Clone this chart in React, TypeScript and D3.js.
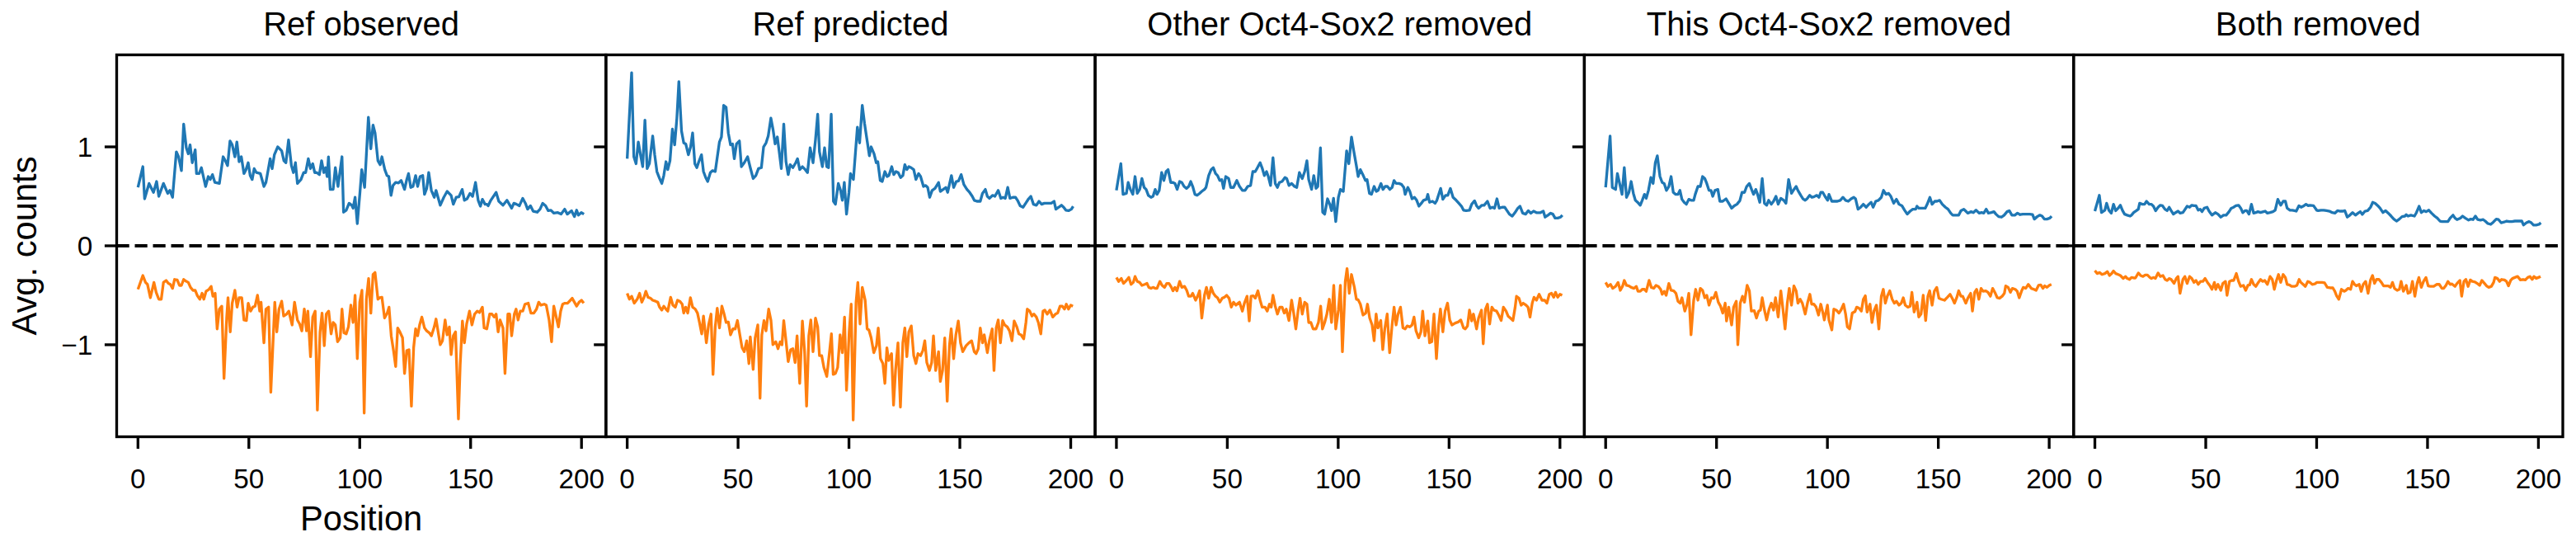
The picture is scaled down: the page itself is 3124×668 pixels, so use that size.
import React from 'react';
import * as d3 from 'd3';

type Pt = [number, number];

const panelTitles = ['Ref observed', 'Ref predicted', 'Other Oct4-Sox2 removed', 'This Oct4-Sox2 removed', 'Both removed'];
const xTicks = [0, 50, 100, 150, 200];
const yTicks = [-1, 0, 1];
const yTickLabels = ['\u22121', '0', '1'];

const refObservedPlus: Pt[] = [[0,0.59],[2.2,0.80],[3,0.475],[5,0.63],[7,0.54],[8.4,0.65],[9.4,0.50],[11.5,0.63],[13.4,0.53],[14.4,0.56],[15.6,0.49],[17.3,0.95],[18.3,0.90],[19.6,0.76],[20.6,1.23],[21.8,0.99],[22.7,0.93],[23.5,1.02],[24.5,0.84],[25.8,0.97],[26.4,0.73],[27.6,0.73],[28.6,0.79],[30.5,0.60],[31.7,0.70],[32.6,0.67],[33.6,0.72],[34.7,0.64],[36.7,0.63],[38.4,0.90],[39.4,0.86],[40.4,0.81],[41.5,1.06],[42.5,1.02],[43.7,0.90],[44.6,1.05],[45.6,0.85],[46.6,0.90],[47.8,0.73],[48.7,0.77],[49.7,0.84],[50.6,0.71],[51.5,0.67],[52.4,0.78],[53.4,0.74],[55.2,0.73],[56.8,0.60],[57.7,0.64],[59.6,0.88],[60.5,0.78],[61.5,0.92],[63,1.00],[64.8,0.96],[65.8,0.86],[66.7,0.84],[67.9,1.07],[69.2,0.81],[70.1,0.74],[71,0.84],[71.9,0.63],[73.5,0.67],[74.7,0.74],[75.6,0.74],[76.8,0.88],[77.8,0.78],[78.8,0.83],[79.7,0.74],[80.6,0.74],[81.8,0.72],[82.8,0.86],[83.8,0.74],[84.6,0.79],[85.3,0.70],[85.9,0.90],[86.7,0.57],[88,0.57],[89,0.79],[90.2,0.60],[92,0.90],[92.7,0.34],[93.9,0.36],[95.2,0.43],[96.4,0.41],[97,0.38],[97.9,0.49],[98.9,0.225],[100.1,0.54],[100.9,0.77],[102.2,0.59],[103.9,1.30],[105,0.98],[106,1.22],[106.9,1.14],[108.2,0.86],[109.2,0.82],[110,0.90],[111.3,0.77],[112.3,0.71],[113.1,0.70],[114.1,0.51],[115,0.61],[116.2,0.64],[117.5,0.635],[118.7,0.66],[120.2,0.57],[121.2,0.67],[122,0.73],[123,0.59],[124,0.60],[125.2,0.71],[126.1,0.60],[127.2,0.70],[128.4,0.71],[129.2,0.52],[130.2,0.58],[131.1,0.74],[132.3,0.56],[133.6,0.49],[134.4,0.56],[136.3,0.41],[137.9,0.49],[139.4,0.55],[141.2,0.51],[142.2,0.42],[143.5,0.49],[144.7,0.495],[146.2,0.57],[147.2,0.46],[148.4,0.475],[149.7,0.53],[150.9,0.50],[152.2,0.64],[153.4,0.46],[154.4,0.40],[155.3,0.47],[156.5,0.42],[157.3,0.42],[157.9,0.405],[159.1,0.46],[161.5,0.54],[162.7,0.45],[164.6,0.41],[166.4,0.46],[168.5,0.38],[169.5,0.43],[170.7,0.42],[172,0.405],[173.5,0.48],[174.7,0.43],[175.7,0.37],[177,0.405],[178.2,0.35],[180,0.34],[181.3,0.37],[182.5,0.43],[183.8,0.405],[185,0.355],[186.2,0.36],[187.5,0.33],[189.3,0.336],[190.8,0.32],[192.4,0.37],[193.6,0.32],[195.5,0.355],[196.8,0.295],[197.8,0.36],[198.6,0.31],[199.9,0.336],[201.1,0.32]];

const refObservedMinus: Pt[] = [[0,-0.44],[2.2,-0.30],[3.4,-0.37],[4.3,-0.39],[5.6,-0.525],[7.2,-0.37],[8.2,-0.47],[9.4,-0.54],[10.5,-0.54],[11.5,-0.37],[12.7,-0.35],[13.7,-0.38],[14.6,-0.39],[15.6,-0.43],[16.5,-0.34],[17.7,-0.345],[18.7,-0.40],[19.6,-0.40],[20.6,-0.34],[21.4,-0.355],[22.7,-0.37],[23.7,-0.42],[24.8,-0.45],[25.8,-0.45],[26.8,-0.505],[27.9,-0.54],[28.9,-0.48],[29.7,-0.54],[30.7,-0.46],[32,-0.44],[33,-0.41],[33.8,-0.51],[34.8,-0.48],[35.7,-0.84],[36.7,-0.64],[37.8,-0.61],[38.8,-1.34],[40,-0.73],[40.6,-0.525],[41.6,-0.87],[42.5,-0.58],[43.7,-0.45],[44.7,-0.62],[45.6,-0.525],[46.8,-0.525],[47.8,-0.75],[48.9,-0.755],[49.7,-0.58],[50.8,-0.66],[51.8,-0.62],[52.8,-0.61],[53.9,-0.50],[54.9,-0.66],[55.5,-0.57],[56.8,-0.98],[57.7,-0.64],[58.9,-0.62],[59.9,-1.48],[61.7,-0.57],[62.6,-0.87],[63.6,-0.64],[64.8,-0.56],[65.7,-0.71],[67,-0.69],[68,-0.66],[69.5,-0.80],[70.6,-0.57],[71.9,-0.75],[72.9,-0.79],[73.9,-0.86],[75,-0.64],[76,-0.86],[76.6,-0.66],[77.8,-1.12],[78.8,-0.72],[79.9,-0.66],[80.9,-1.66],[82.1,-0.87],[83,-0.68],[84,-1.01],[84.9,-0.69],[86,-0.66],[87.1,-0.89],[88,-0.775],[89,-0.80],[90,-0.97],[91.2,-0.93],[92,-0.64],[92.9,-0.88],[93.9,-0.89],[94.9,-0.82],[96,-0.60],[97,-0.775],[97.9,-0.50],[98.9,-1.14],[100,-0.57],[101,-0.45],[102,-1.69],[103,-0.54],[104,-0.33],[105,-0.68],[106,-0.29],[106.9,-0.27],[108.2,-0.54],[109,-0.525],[110,-0.52],[111.2,-0.73],[112.4,-0.68],[113.2,-0.62],[114.2,-0.91],[115.3,-1.07],[116.2,-1.22],[117.1,-0.83],[118.1,-0.87],[119.3,-0.93],[120.2,-1.29],[121.2,-1.06],[122.2,-1.05],[123.3,-1.62],[124.3,-1.03],[125.2,-0.84],[126.1,-0.91],[127,-0.80],[128,-0.72],[129.2,-0.83],[130.2,-0.86],[131.4,-0.88],[132.3,-0.91],[133.6,-0.82],[134.4,-0.74],[136.3,-1.00],[137.3,-0.96],[138.5,-0.75],[139.4,-0.90],[140.4,-0.82],[141.2,-1.10],[142.2,-0.91],[143.2,-0.87],[144.5,-1.75],[145.3,-1.20],[146.3,-0.76],[147.2,-0.98],[148.2,-0.79],[149.5,-0.66],[150.6,-0.80],[151.8,-0.69],[153,-0.66],[154,-0.675],[155.3,-0.62],[156.1,-0.83],[157.3,-0.84],[158.6,-0.69],[159.6,-0.69],[160.6,-0.72],[161.5,-0.69],[162.4,-0.87],[163.3,-0.75],[164.6,-0.83],[165.5,-1.29],[166.8,-0.69],[167.6,-0.69],[168.5,-0.91],[169.7,-0.69],[170.5,-0.64],[171.4,-0.75],[172.4,-0.66],[173.5,-0.66],[174.5,-0.59],[176,-0.58],[177.2,-0.68],[178.5,-0.68],[179.7,-0.64],[180.7,-0.57],[181.7,-0.60],[183.2,-0.59],[184.1,-0.60],[185.4,-0.75],[186.5,-0.97],[187.5,-0.61],[188.5,-0.71],[189.6,-0.82],[190.6,-0.66],[191.5,-0.59],[192.5,-0.58],[193.7,-0.58],[195,-0.55],[195.8,-0.53],[196.8,-0.57],[197.8,-0.61],[198.9,-0.57],[200,-0.55],[201,-0.58]];

const refPredictedPlus: Pt[] = [[0,0.88],[2,1.75],[3,0.90],[4,0.83],[5,1.05],[6,0.92],[7,0.80],[8,1.27],[9,0.78],[10,0.83],[11.5,1.11],[12.4,0.92],[13.4,0.75],[14.6,0.68],[15.6,0.63],[16.5,0.71],[17.5,0.85],[18.3,0.77],[19.3,0.86],[20.4,1.18],[21.4,1.02],[22.4,1.29],[23.3,1.66],[24.5,1.16],[25.5,1.04],[26.4,1.03],[27.6,0.92],[28.6,1.00],[29.5,1.14],[30.5,0.83],[31.4,0.79],[32.3,0.85],[33.5,0.92],[34.4,0.75],[35.4,0.69],[36.3,0.65],[37.5,0.74],[38.5,0.76],[39.7,0.75],[40.4,0.86],[41.6,1.05],[42.5,1.10],[43.5,1.42],[44.6,1.40],[45.6,1.14],[46.6,1.02],[47.5,1.03],[48.3,0.88],[49.3,1.03],[50.6,1.06],[51.5,0.80],[52.8,0.84],[54.3,0.90],[55.5,0.79],[56.8,0.68],[58,0.71],[59.2,0.78],[60.5,0.79],[61.5,1.00],[62.6,1.04],[63.6,1.11],[64.8,1.29],[65.8,1.17],[66.7,1.03],[67.7,1.10],[68.5,0.96],[69.5,0.78],[70.6,1.23],[71.6,0.85],[72.6,0.72],[73.5,0.82],[74.7,0.79],[76,0.84],[76.8,0.88],[77.8,0.77],[79,0.80],[80.3,0.77],[81.3,0.74],[82.5,0.99],[83.8,0.84],[84.9,1.07],[85.9,1.33],[86.7,0.95],[88,0.80],[89,0.99],[90,0.80],[90.8,0.79],[92,1.33],[93,0.45],[93.9,0.42],[95.2,0.63],[96.2,0.56],[97,0.46],[97.9,0.64],[98.9,0.32],[100,0.54],[100.7,0.73],[102,0.67],[103.8,1.20],[104.8,1.04],[106,1.42],[107,1.24],[108.2,1.06],[109.2,0.91],[110,1.00],[111.3,0.93],[112.3,0.84],[113,0.85],[114.1,0.66],[115,0.65],[116.2,0.75],[117.2,0.70],[118,0.71],[119.3,0.80],[120.2,0.72],[121.2,0.75],[122.2,0.74],[123.3,0.69],[124.3,0.71],[125.2,0.82],[126.1,0.77],[127,0.80],[128,0.79],[129.2,0.77],[130.2,0.67],[131.4,0.73],[132.3,0.70],[133.6,0.60],[134.6,0.61],[135.5,0.59],[136.4,0.49],[137.5,0.56],[138.8,0.58],[140.4,0.64],[141.2,0.55],[142.5,0.57],[143.7,0.59],[144.5,0.54],[146.2,0.71],[147.2,0.59],[148.4,0.65],[149.4,0.655],[150.6,0.72],[151.8,0.62],[153.2,0.57],[154.4,0.54],[155.6,0.50],[156.5,0.46],[157.7,0.45],[159.2,0.45],[160.2,0.53],[161.5,0.57],[162.4,0.50],[163.3,0.48],[164.8,0.51],[165.8,0.50],[167.3,0.56],[168.5,0.48],[169.5,0.49],[170.5,0.48],[171.6,0.59],[172.6,0.48],[173.9,0.49],[175.1,0.49],[176,0.46],[177.2,0.405],[178.5,0.39],[179.7,0.43],[181,0.475],[182,0.50],[183.2,0.42],[184.5,0.41],[185.7,0.45],[186.9,0.42],[188.1,0.43],[189.4,0.43],[191.2,0.43],[192.5,0.45],[193.3,0.37],[194.6,0.39],[195.8,0.41],[196.8,0.39],[197.8,0.36],[199,0.355],[200.3,0.37],[201.1,0.40]];

const refPredictedMinus: Pt[] = [[0,-0.48],[1,-0.54],[2,-0.51],[3.2,-0.58],[4.5,-0.54],[5.6,-0.48],[6.6,-0.57],[7.6,-0.52],[8.4,-0.46],[9.4,-0.52],[10.5,-0.53],[11.5,-0.55],[12.8,-0.56],[13.8,-0.57],[14.6,-0.62],[15.6,-0.65],[16.5,-0.61],[17.5,-0.64],[18.3,-0.66],[19.6,-0.52],[20.6,-0.60],[21.7,-0.62],[22.7,-0.55],[23.7,-0.56],[24.8,-0.59],[25.5,-0.68],[26.4,-0.62],[27.3,-0.68],[28.5,-0.525],[29.5,-0.62],[30.7,-0.64],[31.7,-0.68],[32.6,-0.775],[33.6,-0.89],[34.4,-0.71],[35.7,-0.98],[36.7,-0.80],[37.8,-0.69],[38.7,-1.30],[39.7,-0.82],[40.6,-0.63],[41.6,-0.83],[42.7,-0.61],[43.7,-0.69],[44.6,-0.775],[45.6,-0.77],[46.6,-0.90],[47.7,-0.84],[48.7,-0.84],[49.7,-0.755],[50.8,-0.90],[51.8,-1.03],[52.8,-1.07],[53.9,-0.96],[54.9,-1.19],[55.5,-0.92],[56.8,-1.25],[57.7,-0.93],[58.9,-0.80],[59.9,-1.54],[60.7,-0.90],[61.7,-0.755],[62.6,-0.86],[63.8,-0.64],[64.8,-0.75],[65.7,-1.00],[67,-0.97],[68,-1.04],[69,-0.97],[69.8,-1.00],[70.6,-0.755],[71.6,-0.96],[72.6,-1.17],[73.7,-1.05],[74.7,-1.04],[75.7,-1.18],[76.6,-0.91],[77.8,-1.39],[79,-0.76],[80,-1.07],[80.9,-1.62],[81.9,-0.91],[82.8,-0.75],[83.8,-1.07],[84.9,-0.73],[85.9,-0.82],[86.7,-1.11],[87.7,-1.11],[88.7,-1.23],[90,-1.32],[91.1,-1.10],[92.1,-0.89],[92.9,-1.30],[93.9,-1.29],[94.9,-1.23],[96,-0.90],[97,-1.08],[98,-0.72],[98.9,-1.46],[100.1,-0.87],[101,-0.59],[101.9,-1.76],[103.2,-0.57],[104,-0.37],[105,-0.79],[106,-0.42],[107.3,-0.55],[108.2,-0.84],[109,-0.85],[110,-0.93],[111.2,-1.08],[112.4,-1.01],[113.2,-0.83],[114.2,-1.14],[115.3,-1.19],[116.2,-1.39],[117.1,-1.03],[117.9,-1.16],[119.2,-1.09],[120.1,-1.61],[121,-1.26],[122.1,-0.98],[123.2,-1.63],[124.3,-0.98],[125.2,-0.83],[126.1,-1.12],[127,-0.87],[128.1,-0.81],[129.2,-1.11],[130.2,-1.19],[131.1,-1.09],[132.3,-1.11],[133.3,-1.06],[134.2,-0.96],[135.1,-1.18],[136.3,-1.26],[137.3,-1.18],[138.1,-0.91],[139.1,-1.26],[140.4,-1.07],[141.2,-1.37],[142.2,-1.26],[143.2,-0.93],[144.3,-1.57],[145.3,-1.01],[146.1,-0.84],[147.2,-1.14],[148.2,-0.90],[149.3,-0.76],[150.3,-0.98],[151.3,-1.07],[152.8,-1.01],[154.1,-0.98],[155.3,-0.96],[156.5,-1.07],[157.3,-1.09],[158.3,-1.04],[159.2,-0.83],[160.2,-0.98],[161,-0.90],[162.4,-1.08],[163.3,-0.96],[164.6,-0.84],[165.4,-1.26],[166.4,-0.83],[167.3,-0.75],[168.3,-0.98],[169.3,-0.755],[170.2,-0.80],[171.4,-0.82],[172.4,-0.86],[173.5,-0.96],[174.5,-0.76],[175.7,-0.82],[176.6,-0.89],[177.6,-0.90],[178.8,-0.94],[179.8,-0.775],[180.4,-0.64],[181.5,-0.66],[182.5,-0.71],[183.4,-0.69],[184.5,-0.72],[185.4,-0.775],[186.5,-0.89],[187.5,-0.66],[188.3,-0.65],[189.4,-0.69],[190.6,-0.65],[191.9,-0.72],[193.1,-0.69],[194.1,-0.68],[195.2,-0.61],[196.2,-0.61],[197.2,-0.64],[198,-0.59],[199,-0.64],[200,-0.60],[201,-0.61]];

const otherRemovedPlus: Pt[] = [[0,0.56],[2,0.83],[3,0.52],[4.5,0.53],[5.3,0.64],[6.3,0.57],[7.4,0.52],[8.4,0.70],[9.4,0.53],[10.5,0.57],[11.5,0.68],[12.5,0.59],[13.4,0.57],[14.4,0.51],[15.6,0.49],[16.5,0.50],[17.5,0.57],[18.3,0.52],[19.3,0.56],[20.4,0.74],[21.4,0.66],[22.4,0.75],[23.3,0.77],[24.5,0.64],[25.5,0.64],[26.4,0.63],[27.4,0.57],[28.5,0.65],[29.5,0.64],[30.5,0.60],[31.6,0.58],[32.6,0.60],[33.5,0.65],[34.4,0.60],[35.4,0.52],[36.4,0.51],[37.5,0.53],[38.5,0.55],[39.7,0.57],[40.4,0.59],[41.6,0.71],[42.7,0.77],[43.7,0.79],[44.7,0.73],[45.6,0.71],[46.6,0.66],[47.5,0.67],[48.3,0.58],[49.3,0.70],[50.6,0.68],[51.5,0.59],[52.8,0.59],[54.3,0.66],[55.5,0.60],[56.8,0.56],[58,0.56],[59.2,0.60],[60.5,0.61],[61.5,0.75],[62.6,0.75],[63.6,0.79],[64.8,0.84],[65.8,0.78],[66.7,0.71],[67.7,0.75],[68.5,0.70],[69.5,0.61],[70.6,0.89],[71.6,0.63],[72.6,0.59],[73.5,0.64],[74.7,0.65],[76,0.69],[76.8,0.68],[77.8,0.61],[79,0.63],[80.3,0.60],[81.3,0.59],[82.5,0.74],[83.8,0.68],[84.9,0.75],[85.9,0.86],[86.7,0.67],[88,0.57],[89,0.71],[90,0.58],[90.8,0.60],[92,0.99],[93,0.34],[93.9,0.32],[95.2,0.475],[96.2,0.42],[97,0.355],[97.9,0.48],[98.9,0.245],[100.1,0.49],[101,0.57],[102.3,0.55],[103.8,0.96],[104.8,0.83],[106,1.10],[107,0.96],[108.2,0.81],[109,0.70],[110,0.77],[111.3,0.71],[112.3,0.66],[113,0.67],[114.1,0.53],[115,0.52],[116.2,0.60],[117.2,0.55],[118,0.56],[119.3,0.63],[120.2,0.57],[121.2,0.60],[122.2,0.60],[123.3,0.57],[124.3,0.59],[125.2,0.66],[126.1,0.63],[127.4,0.63],[128.6,0.62],[129.6,0.59],[130.2,0.52],[131.4,0.59],[132.3,0.55],[133.3,0.475],[134.4,0.49],[135.4,0.46],[136.4,0.40],[137.5,0.43],[138.5,0.46],[139.8,0.47],[140.4,0.52],[141.2,0.44],[142.5,0.45],[143.7,0.43],[144.5,0.46],[146.2,0.58],[147.2,0.47],[148.4,0.51],[149.4,0.51],[150.6,0.58],[151.8,0.49],[153.2,0.46],[154.4,0.43],[155.6,0.40],[156.5,0.36],[157.7,0.355],[159.2,0.36],[160.2,0.42],[161.5,0.455],[162.4,0.405],[163.3,0.38],[164.8,0.41],[165.8,0.41],[167.3,0.45],[168.5,0.38],[169.5,0.39],[170.5,0.38],[171.6,0.475],[172.6,0.38],[173.9,0.39],[175.1,0.39],[176,0.36],[177.2,0.32],[178.5,0.30],[179.7,0.335],[181,0.38],[182,0.40],[183.2,0.33],[184.5,0.32],[185.7,0.355],[186.9,0.33],[188.1,0.35],[189.4,0.335],[191.2,0.335],[192.5,0.35],[193.3,0.29],[194.6,0.31],[195.8,0.33],[196.8,0.32],[197.8,0.28],[199,0.28],[200.3,0.29],[201.1,0.31]];

const otherRemovedMinus: Pt[] = [[0,-0.32],[1,-0.36],[2.2,-0.33],[3.2,-0.38],[4.5,-0.35],[5.6,-0.32],[6.6,-0.39],[7.6,-0.37],[8.4,-0.31],[9.4,-0.36],[10.5,-0.37],[11.5,-0.40],[12.8,-0.39],[13.8,-0.38],[14.6,-0.42],[15.6,-0.43],[16.5,-0.42],[17.5,-0.43],[18.3,-0.43],[19.6,-0.36],[20.6,-0.40],[21.7,-0.42],[22.7,-0.38],[23.7,-0.38],[24.8,-0.42],[25.5,-0.455],[26.4,-0.42],[27.3,-0.455],[28.5,-0.36],[29.5,-0.42],[30.7,-0.41],[31.7,-0.45],[32.6,-0.51],[33.6,-0.51],[34.4,-0.48],[35.7,-0.55],[36.7,-0.505],[37.5,-0.455],[38.5,-0.73],[39.7,-0.50],[40.6,-0.42],[41.6,-0.53],[42.7,-0.42],[43.7,-0.48],[44.7,-0.51],[45.6,-0.525],[46.6,-0.57],[47.7,-0.53],[48.7,-0.52],[49.7,-0.50],[50.8,-0.53],[51.8,-0.62],[52.8,-0.57],[53.9,-0.60],[54.9,-0.58],[55.5,-0.57],[56.8,-0.66],[57.7,-0.58],[58.9,-0.51],[59.9,-0.76],[60.7,-0.51],[61.7,-0.505],[62.6,-0.53],[63.8,-0.455],[64.8,-0.55],[65.7,-0.62],[67,-0.62],[68,-0.66],[69,-0.59],[69.8,-0.62],[70.6,-0.50],[71.6,-0.61],[72.6,-0.69],[73.7,-0.62],[74.7,-0.62],[75.7,-0.68],[76.6,-0.64],[77.8,-0.755],[79,-0.55],[80,-0.69],[80.9,-0.84],[81.9,-0.66],[82.8,-0.53],[83.8,-0.69],[84.9,-0.57],[85.9,-0.59],[86.7,-0.775],[87.7,-0.775],[88.7,-0.84],[90,-0.84],[91.1,-0.775],[92.1,-0.61],[92.9,-0.84],[93.9,-0.775],[94.9,-0.69],[96,-0.54],[97,-0.775],[98,-0.40],[98.9,-0.84],[100.1,-0.65],[101,-0.40],[101.9,-1.07],[103.2,-0.36],[104,-0.23],[105,-0.48],[106,-0.29],[107.3,-0.42],[108.2,-0.54],[109,-0.545],[110,-0.59],[111.2,-0.70],[112.4,-0.68],[113.2,-0.59],[114.2,-0.73],[115.3,-0.80],[116.2,-0.96],[117.1,-0.69],[117.9,-0.83],[119.2,-0.755],[120.1,-1.05],[121,-0.84],[122.1,-0.69],[123.2,-1.08],[124.3,-0.80],[125.2,-0.62],[126.1,-0.80],[127,-0.69],[128.1,-0.62],[129.2,-0.83],[130.2,-0.84],[131.1,-0.81],[132.3,-0.82],[133.3,-0.80],[134.2,-0.72],[135.1,-0.86],[136.3,-0.93],[137.3,-0.87],[138.1,-0.66],[139.1,-0.91],[140.4,-0.76],[141.2,-0.98],[142.2,-0.97],[143.2,-0.69],[144.3,-1.14],[145.3,-0.80],[146.1,-0.64],[147.2,-0.87],[148.2,-0.66],[149.3,-0.58],[150.3,-0.75],[151.3,-0.80],[152.8,-0.78],[154.1,-0.77],[155.3,-0.75],[156.5,-0.83],[157.3,-0.84],[158.3,-0.81],[159.2,-0.65],[160.2,-0.76],[161,-0.69],[162.4,-0.84],[163.3,-0.73],[164.6,-0.65],[165.4,-0.99],[166.4,-0.64],[167.3,-0.59],[168.3,-0.79],[169.3,-0.62],[170.2,-0.65],[171.4,-0.66],[172.4,-0.70],[173.5,-0.755],[174.5,-0.62],[175.7,-0.66],[176.6,-0.71],[177.6,-0.73],[178.8,-0.755],[179.8,-0.62],[180.4,-0.51],[181.5,-0.53],[182.5,-0.60],[183.4,-0.58],[184.7,-0.60],[185.6,-0.62],[186.5,-0.72],[187.5,-0.58],[188.3,-0.52],[189.4,-0.55],[190.6,-0.49],[191.9,-0.55],[193.1,-0.55],[194.1,-0.58],[195.2,-0.49],[196.2,-0.48],[197.2,-0.52],[198,-0.47],[199,-0.52],[200,-0.49],[201,-0.50]];

const thisRemovedPlus: Pt[] = [[0,0.59],[2,1.11],[3,0.59],[4.5,0.57],[5.3,0.73],[6.3,0.63],[7.4,0.52],[8.4,0.79],[9.4,0.49],[10.5,0.54],[11.5,0.65],[12.5,0.53],[13.4,0.46],[14.4,0.44],[15.6,0.41],[16.5,0.46],[17.5,0.52],[18.3,0.48],[19.3,0.56],[20.4,0.69],[21.4,0.63],[22.4,0.84],[23.3,0.91],[24.5,0.70],[25.5,0.64],[26.4,0.63],[27.4,0.56],[28.5,0.60],[29.5,0.70],[30.5,0.54],[31.6,0.52],[32.6,0.52],[33.5,0.56],[34.4,0.47],[35.4,0.44],[36.4,0.42],[37.5,0.47],[38.5,0.46],[39.7,0.46],[40.4,0.52],[41.6,0.60],[42.7,0.60],[43.7,0.70],[44.7,0.68],[45.6,0.63],[46.6,0.56],[47.5,0.56],[48.3,0.50],[49.3,0.56],[50.6,0.57],[51.5,0.45],[52.8,0.45],[54.3,0.475],[55.5,0.43],[56.8,0.38],[58,0.405],[59.2,0.42],[60.5,0.455],[61.5,0.54],[62.6,0.54],[63.6,0.60],[64.8,0.63],[65.8,0.57],[66.7,0.52],[67.7,0.57],[68.5,0.52],[69.5,0.44],[70.6,0.68],[71.6,0.43],[72.6,0.41],[73.5,0.46],[74.7,0.42],[75.7,0.45],[76.8,0.50],[77.8,0.42],[79,0.48],[80.3,0.46],[81.3,0.43],[82.5,0.67],[83.8,0.53],[84.9,0.57],[85.9,0.60],[86.7,0.56],[88,0.51],[89,0.475],[90,0.46],[90.8,0.475],[92,0.51],[93,0.49],[93.9,0.495],[95.2,0.51],[96.2,0.49],[97,0.54],[97.9,0.54],[98.9,0.50],[100.1,0.46],[100.7,0.52],[102,0.45],[103.2,0.45],[104.5,0.45],[105.8,0.46],[107,0.49],[108.2,0.46],[109.4,0.45],[110.7,0.475],[111.9,0.49],[112.7,0.475],[113.8,0.37],[115,0.39],[116.2,0.42],[117.5,0.39],[118.7,0.42],[119.7,0.44],[120.6,0.39],[121.8,0.45],[123,0.46],[124.3,0.49],[125.3,0.56],[126.4,0.52],[127.6,0.53],[128.6,0.50],[129.9,0.43],[131.1,0.47],[132.3,0.42],[133.6,0.405],[134.8,0.36],[136,0.32],[137.3,0.35],[138.5,0.37],[139.8,0.37],[140.4,0.40],[141.2,0.38],[142.5,0.38],[144.1,0.38],[145,0.42],[146.2,0.49],[147.2,0.42],[148.4,0.45],[149.4,0.45],[150.6,0.46],[151.8,0.42],[153.2,0.39],[154.4,0.37],[155.6,0.33],[156.5,0.31],[157.7,0.31],[159.2,0.31],[160.2,0.355],[161.5,0.37],[162.4,0.35],[163.3,0.33],[164.8,0.345],[165.8,0.336],[167,0.36],[168.5,0.33],[169.5,0.336],[170.5,0.33],[171.6,0.37],[172.6,0.33],[173.9,0.336],[175.1,0.345],[176,0.32],[177.2,0.295],[178.5,0.29],[179.7,0.31],[181,0.345],[182,0.355],[183.2,0.31],[184.5,0.31],[185.7,0.33],[186.9,0.315],[188.1,0.32],[189.4,0.32],[191.2,0.32],[192.5,0.315],[193.3,0.27],[194.6,0.295],[195.8,0.31],[196.8,0.30],[197.8,0.27],[199,0.27],[200.3,0.28],[201.1,0.30]];

const thisRemovedMinus: Pt[] = [[0,-0.37],[1,-0.41],[2.2,-0.39],[3.2,-0.43],[4.5,-0.41],[5.6,-0.37],[6.6,-0.45],[7.6,-0.41],[8.4,-0.35],[9.4,-0.40],[10.5,-0.405],[11.5,-0.42],[12.8,-0.43],[13.8,-0.41],[14.6,-0.46],[15.6,-0.46],[16.5,-0.44],[17.5,-0.44],[18.3,-0.46],[19.6,-0.35],[20.6,-0.42],[21.7,-0.43],[22.7,-0.40],[23.7,-0.41],[24.8,-0.44],[25.5,-0.49],[26.4,-0.46],[27.3,-0.50],[28.5,-0.38],[29.5,-0.45],[30.7,-0.456],[31.7,-0.48],[32.6,-0.56],[33.6,-0.58],[34.4,-0.525],[35.7,-0.66],[36.7,-0.59],[37.5,-0.48],[38.5,-0.90],[39.7,-0.55],[40.6,-0.44],[41.6,-0.55],[42.7,-0.43],[43.7,-0.45],[44.7,-0.525],[45.6,-0.50],[46.6,-0.60],[47.7,-0.525],[48.7,-0.53],[49.7,-0.47],[50.8,-0.57],[51.8,-0.61],[52.8,-0.68],[53.9,-0.58],[54.5,-0.76],[55.5,-0.62],[56.8,-0.80],[57.7,-0.62],[58.9,-0.56],[59.6,-1.00],[60.7,-0.58],[61.7,-0.51],[62.6,-0.57],[63.8,-0.40],[64.8,-0.455],[65.7,-0.66],[67,-0.655],[68,-0.73],[69,-0.66],[69.8,-0.65],[70.6,-0.525],[71.6,-0.65],[72.6,-0.75],[73.7,-0.64],[74.7,-0.58],[75.7,-0.65],[76.6,-0.525],[77.8,-0.72],[79,-0.455],[80,-0.65],[80.9,-0.84],[81.9,-0.58],[82.8,-0.43],[83.8,-0.60],[84.9,-0.405],[85.9,-0.455],[86.7,-0.58],[87.7,-0.54],[88.7,-0.58],[90,-0.69],[91.1,-0.57],[92.1,-0.49],[92.9,-0.59],[93.9,-0.59],[94.9,-0.62],[96,-0.70],[97,-0.59],[98,-0.68],[98.6,-0.75],[100,-0.60],[100.7,-0.75],[102,-0.85],[102.9,-0.64],[104,-0.65],[105.2,-0.68],[106.1,-0.65],[107.3,-0.59],[108.2,-0.69],[109,-0.82],[110,-0.84],[111.2,-0.68],[112.4,-0.665],[113.2,-0.62],[114.2,-0.63],[115.3,-0.66],[116.2,-0.54],[117.1,-0.505],[117.9,-0.67],[119.2,-0.59],[120.1,-0.775],[121,-0.66],[122.1,-0.60],[123.2,-0.84],[124.3,-0.51],[125.2,-0.44],[126.1,-0.58],[127,-0.51],[128.1,-0.455],[129.2,-0.54],[130.2,-0.58],[131.1,-0.56],[132.3,-0.60],[133.3,-0.58],[134.2,-0.525],[135.1,-0.60],[136.3,-0.62],[137.3,-0.61],[138.1,-0.47],[139.1,-0.67],[140.4,-0.57],[141.2,-0.72],[142.2,-0.69],[143.2,-0.50],[144.3,-0.755],[145.3,-0.51],[146.1,-0.455],[147.2,-0.60],[148.2,-0.46],[149.3,-0.42],[150.3,-0.53],[151.3,-0.54],[152.8,-0.55],[154.1,-0.52],[155.3,-0.49],[156.5,-0.54],[157.3,-0.58],[158.3,-0.525],[159.2,-0.455],[160.2,-0.51],[161,-0.51],[162.4,-0.58],[163.3,-0.53],[164.6,-0.48],[165.4,-0.66],[166.4,-0.47],[167.3,-0.44],[168.3,-0.54],[169.3,-0.43],[170.2,-0.46],[171.4,-0.455],[172.4,-0.47],[173.5,-0.51],[174.5,-0.43],[175.7,-0.48],[176.6,-0.525],[177.6,-0.53],[178.8,-0.51],[179.8,-0.48],[180.4,-0.405],[181.5,-0.42],[182.5,-0.47],[183.4,-0.43],[184.7,-0.44],[185.6,-0.46],[186.5,-0.525],[187.5,-0.46],[188.3,-0.42],[189.4,-0.43],[190.6,-0.39],[191.9,-0.43],[193.1,-0.44],[194.1,-0.45],[195.2,-0.40],[196.2,-0.395],[197.2,-0.43],[198,-0.405],[199,-0.42],[200,-0.40],[201,-0.39]];

const bothRemovedPlus: Pt[] = [[0,0.35],[2,0.51],[3,0.336],[4.5,0.36],[5.3,0.43],[6.3,0.36],[7.4,0.33],[8.4,0.42],[9.4,0.355],[10.5,0.38],[11.5,0.41],[12.5,0.355],[13.4,0.32],[14.6,0.31],[15.9,0.30],[16.5,0.31],[17.5,0.336],[18.7,0.355],[19.6,0.37],[20.2,0.43],[21.4,0.42],[22.4,0.42],[23.3,0.45],[24.5,0.42],[25.5,0.42],[26.4,0.40],[27.4,0.355],[28.5,0.39],[29.5,0.41],[30.5,0.405],[31.6,0.37],[32.6,0.355],[33.5,0.39],[34.4,0.355],[35.4,0.32],[36.4,0.336],[37.5,0.35],[38.5,0.33],[39.7,0.336],[40.4,0.36],[41.6,0.40],[42.7,0.39],[43.7,0.41],[44.7,0.405],[45.6,0.405],[46.6,0.36],[47.5,0.37],[48.3,0.345],[49.3,0.38],[50.6,0.39],[51.5,0.35],[52.8,0.31],[54.3,0.336],[55.5,0.32],[56.8,0.29],[58,0.31],[59.2,0.31],[60.5,0.345],[61.5,0.38],[62.6,0.39],[63.6,0.405],[64.8,0.41],[65.8,0.38],[66.7,0.336],[67.7,0.355],[68.5,0.355],[69.5,0.32],[70.6,0.42],[71.6,0.33],[72.6,0.336],[73.5,0.345],[74.7,0.336],[76,0.345],[76.8,0.35],[77.8,0.33],[79,0.336],[80.3,0.345],[81.3,0.36],[82.5,0.47],[83.8,0.41],[84.9,0.45],[85.9,0.45],[86.7,0.38],[88,0.36],[89,0.36],[90,0.355],[90.8,0.35],[92,0.405],[93,0.39],[93.9,0.40],[95.2,0.42],[96.2,0.405],[97,0.41],[98.6,0.405],[100,0.36],[100.7,0.355],[102,0.36],[103.2,0.36],[104.5,0.355],[105.8,0.35],[107,0.336],[108.2,0.33],[109.4,0.355],[110.7,0.35],[111.9,0.35],[112.7,0.355],[113.8,0.29],[115,0.31],[116.2,0.336],[117.5,0.31],[118.7,0.33],[119.7,0.345],[120.6,0.317],[121.8,0.35],[123,0.355],[124.3,0.39],[125.3,0.44],[126.4,0.43],[127.6,0.405],[128.6,0.38],[129.9,0.336],[131.1,0.355],[132.3,0.33],[133.6,0.30],[134.8,0.27],[136,0.25],[137.3,0.27],[138.5,0.295],[139.8,0.30],[140.4,0.315],[141.2,0.30],[142.5,0.31],[144.1,0.30],[145,0.336],[146.2,0.40],[147.2,0.336],[148.4,0.355],[149.4,0.345],[150.6,0.36],[151.8,0.33],[153.2,0.30],[154.4,0.28],[155.6,0.25],[156.5,0.245],[157.7,0.245],[159.2,0.245],[160.2,0.28],[161.5,0.31],[162.4,0.28],[163.3,0.265],[164.8,0.28],[165.8,0.30],[167,0.28],[168.5,0.26],[169.5,0.27],[170.5,0.265],[171.6,0.30],[172.6,0.265],[173.9,0.26],[175.1,0.265],[176,0.25],[177.2,0.225],[178.5,0.217],[179.7,0.24],[181,0.27],[182,0.265],[183.2,0.233],[184.5,0.24],[185.7,0.25],[186.9,0.245],[188.1,0.245],[189.4,0.25],[191.2,0.25],[192.5,0.25],[193.3,0.21],[194.6,0.233],[195.8,0.245],[196.8,0.233],[197.8,0.21],[199,0.21],[200.3,0.217],[201.1,0.233]];

const bothRemovedMinus: Pt[] = [[0,-0.25],[1,-0.28],[2.2,-0.27],[3.2,-0.29],[4.5,-0.28],[5.6,-0.26],[6.6,-0.30],[7.6,-0.28],[8.4,-0.255],[9.4,-0.28],[10.5,-0.29],[11.5,-0.30],[12.8,-0.33],[13.8,-0.31],[14.6,-0.33],[15.6,-0.34],[16.5,-0.32],[17.5,-0.325],[18.3,-0.325],[19.6,-0.275],[20.6,-0.30],[21.7,-0.31],[22.7,-0.295],[23.7,-0.295],[24.8,-0.32],[25.5,-0.33],[26.4,-0.32],[27.3,-0.33],[28.5,-0.275],[29.5,-0.31],[30.7,-0.30],[31.7,-0.34],[32.6,-0.35],[33.6,-0.33],[34.4,-0.34],[35.7,-0.38],[36.7,-0.33],[37.5,-0.31],[38.4,-0.48],[39.7,-0.34],[40.6,-0.31],[41.6,-0.38],[42.7,-0.31],[43.7,-0.33],[44.7,-0.37],[45.6,-0.35],[46.6,-0.39],[47.7,-0.36],[48.7,-0.36],[49.7,-0.33],[50.8,-0.37],[51.8,-0.40],[52.8,-0.44],[53.9,-0.37],[54.5,-0.44],[55.5,-0.39],[56.8,-0.45],[57.7,-0.38],[58.9,-0.36],[59.6,-0.50],[60.7,-0.36],[61.7,-0.35],[62.6,-0.35],[63.8,-0.28],[64.8,-0.36],[65.7,-0.41],[67,-0.40],[68,-0.45],[69,-0.40],[69.8,-0.395],[70.6,-0.34],[71.6,-0.39],[72.6,-0.41],[73.7,-0.37],[74.7,-0.34],[75.7,-0.36],[76.6,-0.35],[77.8,-0.39],[79,-0.31],[80,-0.34],[80.9,-0.44],[81.9,-0.35],[82.8,-0.29],[83.8,-0.37],[84.9,-0.29],[85.9,-0.32],[86.7,-0.39],[87.7,-0.395],[88.7,-0.41],[90,-0.41],[91.1,-0.40],[92.1,-0.34],[92.9,-0.37],[93.9,-0.39],[94.9,-0.41],[96,-0.36],[97,-0.37],[98,-0.39],[99.2,-0.385],[100.1,-0.37],[101.2,-0.37],[102.4,-0.37],[103.6,-0.375],[104.8,-0.42],[106.1,-0.425],[107.3,-0.425],[108.2,-0.46],[109,-0.505],[110,-0.54],[111.2,-0.44],[112.4,-0.46],[113.2,-0.45],[114.2,-0.43],[115.3,-0.44],[116.2,-0.36],[117.1,-0.39],[117.9,-0.405],[119.2,-0.39],[120.1,-0.46],[121,-0.39],[122.1,-0.36],[123.2,-0.48],[124.3,-0.345],[125.2,-0.30],[126.1,-0.38],[127,-0.34],[128.1,-0.34],[129.2,-0.37],[130.2,-0.405],[131.1,-0.405],[132.3,-0.405],[133.3,-0.42],[134.2,-0.37],[135.1,-0.43],[136.3,-0.45],[137.3,-0.44],[138.1,-0.36],[139.1,-0.46],[140.4,-0.40],[141.2,-0.48],[142.2,-0.47],[143.2,-0.36],[144.3,-0.51],[145.3,-0.38],[146.1,-0.32],[147.2,-0.42],[148.2,-0.36],[149.3,-0.32],[150.3,-0.405],[151.3,-0.41],[152.8,-0.41],[154.1,-0.39],[155.3,-0.39],[156.5,-0.43],[157.3,-0.43],[158.3,-0.40],[159.2,-0.36],[160.2,-0.39],[161,-0.385],[162.4,-0.41],[163.3,-0.38],[164.6,-0.35],[165.4,-0.51],[166.4,-0.36],[167.3,-0.34],[168.3,-0.41],[169.3,-0.345],[170.2,-0.36],[171.4,-0.365],[172.4,-0.38],[173.5,-0.40],[174.5,-0.35],[175.7,-0.38],[176.6,-0.405],[177.6,-0.42],[178.8,-0.41],[179.8,-0.37],[180.4,-0.32],[181.5,-0.33],[182.5,-0.36],[183.4,-0.34],[184.7,-0.345],[185.6,-0.36],[186.5,-0.405],[187.5,-0.35],[188.3,-0.33],[189.4,-0.32],[190.6,-0.31],[191.9,-0.345],[193.1,-0.34],[194.1,-0.345],[195.2,-0.32],[196.2,-0.31],[197.2,-0.34],[198,-0.31],[199,-0.33],[200,-0.32],[201,-0.31]];

const plusSeries = [refObservedPlus, refPredictedPlus, otherRemovedPlus, thisRemovedPlus, bothRemovedPlus];
const minusSeries = [refObservedMinus, refPredictedMinus, otherRemovedMinus, thisRemovedMinus, bothRemovedMinus];

const W = 3124;
const H = 668;
const axTop = 66.5;
const axBottom = 529.5;
const axLeft0 = 141.5;
const panelW = 593.3;
const tickLen = 14.6;
const lw = 3.33;
const font = 'Liberation Sans, Arial, Helvetica, sans-serif';
const blue = '#1f77b4';
const orange = '#ff7f0e';

export default function App() {
  const y = d3.scaleLinear().domain([-1.93, 1.93]).range([axBottom, axTop]);
  return (
    <svg width={W} height={H} style={{ position: 'absolute', left: 0, top: 0, background: '#fff' }} fontFamily={font}>
      <rect x={0} y={0} width={W} height={H} fill="#fff" />
      {panelTitles.map((title, i) => {
        const x0 = axLeft0 + i * panelW;
        const x = d3.scaleLinear().domain([-9.6, 211.0]).range([x0, x0 + panelW]);
        const line = d3.line<Pt>().x(d => x(d[0])).y(d => y(d[1]));
        return (
          <g key={i}>
            <path d={line(plusSeries[i]) || ''} fill="none" stroke={blue} strokeWidth={lw} strokeLinejoin="round" />
            <path d={line(minusSeries[i]) || ''} fill="none" stroke={orange} strokeWidth={lw} strokeLinejoin="round" />
            <line x1={x0} x2={x0 + panelW} y1={y(0)} y2={y(0)} stroke="#000" strokeWidth={4.1} strokeDasharray="15.2 6.8" />
            <rect x={x0} y={axTop} width={panelW} height={axBottom - axTop} fill="none" stroke="#000" strokeWidth={lw} />
            {xTicks.map(t => (
              <g key={t}>
                <line x1={x(t)} x2={x(t)} y1={axBottom} y2={axBottom + tickLen} stroke="#000" strokeWidth={lw} />
                <text x={x(t)} y={592} textAnchor="middle" fontSize={33.3}>{t}</text>
              </g>
            ))}
            {yTicks.map((t, k) => (
              <g key={t}>
                <line x1={x0 - tickLen} x2={x0} y1={y(t)} y2={y(t)} stroke="#000" strokeWidth={lw} />
                {i === 0 && (
                  <text x={x0 - tickLen - 14.6} y={y(t) + 12} textAnchor="end" fontSize={33.3}>{yTickLabels[k]}</text>
                )}
              </g>
            ))}
            <text x={x0 + panelW / 2} y={42.5} textAnchor="middle" fontSize={40}>{title}</text>
          </g>
        );
      })}
      <text x={axLeft0 + panelW / 2} y={643} textAnchor="middle" fontSize={41.7}>Position</text>
      <text transform={`translate(44, ${y(0)}) rotate(-90)`} textAnchor="middle" fontSize={41.7}>Avg. counts</text>
    </svg>
  );
}
